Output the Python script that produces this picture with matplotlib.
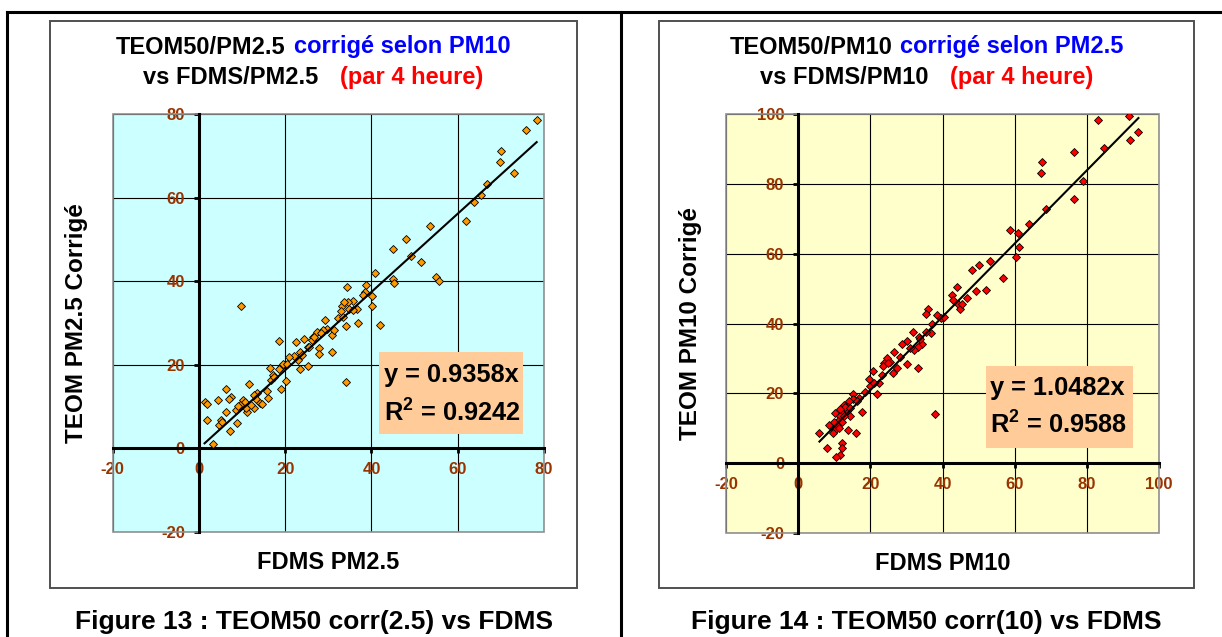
import matplotlib
matplotlib.use("Agg")
import matplotlib.pyplot as plt
from matplotlib.transforms import IdentityTransform
from matplotlib.patches import Rectangle
from matplotlib.lines import Line2D

# ---------------- data ----------------
fdms_pm25 = [78.3, 75.8, 70.0, 69.8, 73.1, 66.9, 65.5, 63.8, 61.9, 53.6, 47.9, 45.0, 49.2, 51.4,
             54.9, 55.7, 45.0, 45.2, 40.9, 40.1, 40.1, 41.9, 38.8, 38.4, 38.1, 34.3, 34.2, 34.0,
             36.9, 36.7, 35.7, 34.5, 33.1, 32.9, 32.2, 34.9, 29.3, 30.8, 29.8, 28.7, 27.4, 26.4,
             26.3, 27.9, 27.8, 30.8, 25.3, 24.4, 22.6, 23.5, 25.3, 23.5, 22.1, 20.9, 19.6, 18.6,
             19.0, 18.5, 20.2, 19.1, 16.4, 17.1, 16.6, 16.1, 15.7, 13.4, 13.2, 14.2, 11.6, 9.7,
             6.2, 7.5, 7.0, 4.4, 1.3, 1.9, 1.9, 4.7, 5.0, 5.4, 8.5, 8.8, 7.2, 3.3, 10.1, 10.7,
             11.2, 11.0, 12.8, 12.8, 9.5, 9.1, 12.0, 14.7, 17.4, 19.4, 20.5, 22.9, 23.8, 25.6,
             26.7, 28.4, 31.4, 33.3, 33.7, 35.8, 6.2]
teom_pm25_corr = [78.5, 76.2, 71.1, 68.4, 65.9, 63.3, 60.6, 59.0, 54.5, 53.2, 50.0, 47.7, 46.1, 44.7,
                  41.1, 40.1, 40.5, 39.6, 41.9, 36.5, 34.1, 29.5, 39.0, 37.5, 36.7, 38.6, 29.3, 15.9,
                  30.1, 33.3, 35.3, 35.0, 34.1, 32.9, 31.3, 33.3, 30.8, 27.1, 28.6, 28.3, 27.8, 26.6,
                  25.9, 23.9, 22.7, 23.0, 24.3, 26.1, 25.4, 23.0, 19.7, 19.1, 22.1, 21.8, 19.9, 25.8,
                  19.5, 18.9, 16.1, 14.3, 19.2, 17.5, 16.3, 12.1, 13.7, 13.3, 11.8, 10.9, 15.3, 34.1,
                  14.3, 12.4, 11.7, 11.6, 11.2, 10.6, 6.8, 5.6, 6.9, 6.4, 9.2, 6.0, 4.1, 1.0, 11.6, 11.2,
                  8.8, 9.7, 9.6, 12.8, 10.5, 10.1, 10.5, 10.6, 17.1, 20.3, 20.3, 21.1, 22.3, 24.3,
                  26.6, 27.5, 28.3, 31.5, 35.1, 33.1, 8.8]
slope_pm25 = 0.9358
r2_pm25 = 0.9242

fdms_pm10 = [91.7, 83.1, 94.3, 92.1, 84.8, 76.4, 67.7, 67.3, 79.0, 76.4, 68.8, 64.0, 58.7, 61.0,
             61.3, 60.3, 56.7, 53.1, 50.0, 48.3, 52.0, 49.4, 44.1, 42.6, 42.8, 44.4, 44.9, 46.7,
             38.4, 39.5, 35.9, 35.4, 37.2, 36.8, 35.5, 37.8, 31.7, 30.1, 33.4, 34.3, 33.1, 32.0,
             28.8, 26.5, 25.5, 24.6, 23.9, 30.1, 33.2, 27.4, 26.3, 23.5, 23.2, 22.3, 20.7, 19.5,
             19.8, 21.8, 17.7, 18.6, 16.9, 15.2, 15.2, 14.0, 13.8, 12.6, 13.4, 12.2, 10.3, 11.5,
             11.0, 14.5, 12.2, 10.7, 8.5, 10.3, 13.7, 15.9, 5.9, 8.0, 12.2, 12.2, 11.5, 10.6,
             12.9, 11.7, 14.3, 9.7, 11.2, 16.3, 20.9, 24.9, 28.3, 31.1, 33.8, 40.5, 45.3, 9.9, 12.8]
teom_pm10_corr = [99.4, 98.2, 94.8, 92.5, 90.2, 89.2, 86.2, 83.1, 80.8, 75.7, 72.7, 68.4, 66.8, 65.9,
                  62.0, 59.1, 53.1, 57.9, 56.7, 55.4, 49.6, 49.2, 50.5, 48.2, 46.6, 45.5, 44.1, 47.2,
                  42.3, 41.5, 44.2, 42.7, 39.9, 37.2, 37.5, 14.0, 37.7, 35.0, 36.1, 34.1, 33.4, 32.4,
                  34.1, 31.8, 29.1, 30.1, 28.6, 28.3, 27.2, 27.2, 25.8, 27.7, 25.3, 22.9, 26.4, 24.1,
                  22.2, 19.8, 14.6, 20.5, 18.6, 19.8, 18.3, 17.7, 16.2, 16.7, 14.8, 14.3, 14.3, 13.4,
                  12.2, 13.5, 11.9, 11.0, 11.0, 9.5, 9.5, 8.5, 8.5, 4.3, 5.9, 4.3, 2.4, 1.9,
                  16.2, 15.5, 15.7, 8.6, 10.0, 17.7, 22.9, 28.6, 30.5, 32.9, 35.5, 41.8, 45.6, 11.9, 13.4]
slope_pm10 = 1.0482
r2_pm10 = 0.9588

ticks_pm25 = [-20, 0, 20, 40, 60, 80]
ticks_pm10 = [-20, 0, 20, 40, 60, 80, 100]

# ---------------- figure ----------------
W, H = 1222, 637
plt.rcParams["font.family"] = ["Liberation Sans", "DejaVu Sans"]
plt.rcParams["axes.unicode_minus"] = False
plt.rcParams["mathtext.fontset"] = "custom"
plt.rcParams["mathtext.rm"] = "Liberation Sans:bold"
plt.rcParams["mathtext.bf"] = "Liberation Sans:bold"
plt.rcParams["mathtext.it"] = "Liberation Sans:bold"
fig = plt.figure(figsize=(W / 100, H / 100), dpi=100)
ID = IdentityTransform()


def px_axes(l, t, r, b):
    return fig.add_axes([l / W, 1 - b / H, (r - l) / W, (b - t) / H])


def line_px(x0, y0, x1, y1, lw=2.0, color="black"):
    fig.add_artist(Line2D([x0, x1], [H - y0, H - y1], transform=ID, lw=lw, color=color))


def text_px(x, y, s, **kw):
    return fig.text(x, H - y, s, transform=ID, **kw)


def colored_line(parts, cx, baseline, size, gap):
    ts = [text_px(0, 0, s, color=c, fontsize=size, fontweight="bold", ha="left", va="baseline")
          for s, c in parts]
    r = fig.canvas.get_renderer()
    widths = [t.get_window_extent(r).width for t in ts]
    total = sum(widths) + gap * (len(ts) - 1)
    x = cx - total / 2
    for t, w in zip(ts, widths):
        t.set_position((x, H - baseline))
        x += w + gap


# table lines
line_px(7, 12, W, 12, lw=2.2)
line_px(7, 12, 7, H, lw=2.2)
line_px(621, 12, 621, H, lw=2.2)

# chart frames
for (l, t, r, b) in [(49.7, 20.7, 576.7, 587.7), (659.3, 20.7, 1194, 587.7)]:
    fig.add_artist(Rectangle((l, H - b), r - l, b - t, transform=ID, fill=False,
                             edgecolor="#505050", lw=1.4))


def make_chart(ax, xs, ys, slope, r2, lim, ticks, face, mcolor, box, txt_x, txt_y):
    ax.set_facecolor(face)
    for s in ["top", "right"]:
        ax.spines[s].set_visible(False)
    ax.spines["left"].set_position(("data", 0))
    ax.spines["bottom"].set_position(("data", 0))
    for s in ["left", "bottom"]:
        ax.spines[s].set_linewidth(2.2)
        ax.spines[s].set_zorder(2.6)
    ax.set_xlim(lim)
    ax.set_ylim(lim)
    ax.set_xticks(ticks)
    ax.set_yticks(ticks)
    ax.grid(True, color="black", lw=0.8)
    ax.set_axisbelow(True)
    ax.tick_params(axis="both", direction="out", length=3.6, width=2, color="black", pad=6.5,
                   labelsize=12, labelcolor="#993300")
    ax.set_xticklabels([str(t) for t in ticks], fontweight="bold")
    ax.set_yticklabels([str(t) for t in ticks], fontweight="bold")
    ax.add_patch(Rectangle((0, 0), 1, 1, transform=ax.transAxes, fill=False,
                           edgecolor="#909090", lw=1.2, zorder=2.55, clip_on=False))
    ax.plot(xs, ys, linestyle="none", marker="D", markersize=4.3, markerfacecolor=mcolor,
            markeredgecolor="black", markeredgewidth=0.6, zorder=3)
    x0, x1 = min(xs), max(xs)
    ax.plot([x0, x1], [slope * x0, slope * x1], color="black", lw=1.5, zorder=3.5)
    bx0, by0, bx1, by1 = box
    ax.add_patch(Rectangle((bx0, by0), bx1 - bx0, by1 - by0, facecolor="#FFCC99",
                           edgecolor="none", zorder=5))
    ax.text(txt_x, txt_y[0], f"y = {slope:.4f}x", fontsize=18.3, fontweight="bold",
            ha="left", va="center", zorder=6)
    ax.text(txt_x, txt_y[1], r"R$^{\mathbf{2}}$" + f" = {r2:.4f}", fontsize=18.3,
            fontweight="bold", ha="left", va="center", zorder=6)


ax1 = px_axes(112.7, 114, 544, 532)
make_chart(ax1, fdms_pm25, teom_pm25_corr, slope_pm25, r2_pm25, (-20, 80), ticks_pm25,
           "#CCFFFF", "#FF9900", (41.7, 3.45, 75.1, 23.1), 42.9, (17.6, 8.5))

ax2 = px_axes(726, 114, 1159, 533)
make_chart(ax2, fdms_pm10, teom_pm10_corr, slope_pm10, r2_pm10, (-20, 100), ticks_pm10,
           "#FFFFCC", "#FF0000", (52.0, 4.3, 92.8, 27.8), 53.2, (21.5, 10.9))

# titles
colored_line([("TEOM50/PM2.5", "black"), ("corrigé selon PM10", "#0000FF")], 313, 53.5, 17, 8)
colored_line([("vs FDMS/PM2.5", "black"), ("(par 4 heure)", "#FF0000")], 313, 84, 17, 22)
colored_line([("TEOM50/PM10", "black"), ("corrigé selon PM2.5", "#0000FF")], 926.5, 53.5, 17, 8)
colored_line([("vs FDMS/PM10", "black"), ("(par 4 heure)", "#FF0000")], 926.5, 84, 17, 22)

# axis labels
text_px(77, 323, "TEOM PM2.5 Corrigé", fontsize=17.5, fontweight="bold", rotation=90,
        ha="center", va="center")
text_px(690, 323.5, "TEOM PM10 Corrigé", fontsize=17.5, fontweight="bold", rotation=90,
        ha="center", va="center")
text_px(328, 569, "FDMS PM2.5", fontsize=17, fontweight="bold", ha="center", va="baseline")
text_px(942.5, 570, "FDMS PM10", fontsize=17, fontweight="bold", ha="center", va="baseline")

# captions
text_px(314, 629, "Figure 13 : TEOM50 corr(2.5) vs FDMS", fontsize=19, fontweight="bold",
        ha="center", va="baseline")
text_px(926.5, 629, "Figure 14 : TEOM50 corr(10) vs FDMS", fontsize=19, fontweight="bold",
        ha="center", va="baseline")

fig.savefig("out.png", dpi=100)
